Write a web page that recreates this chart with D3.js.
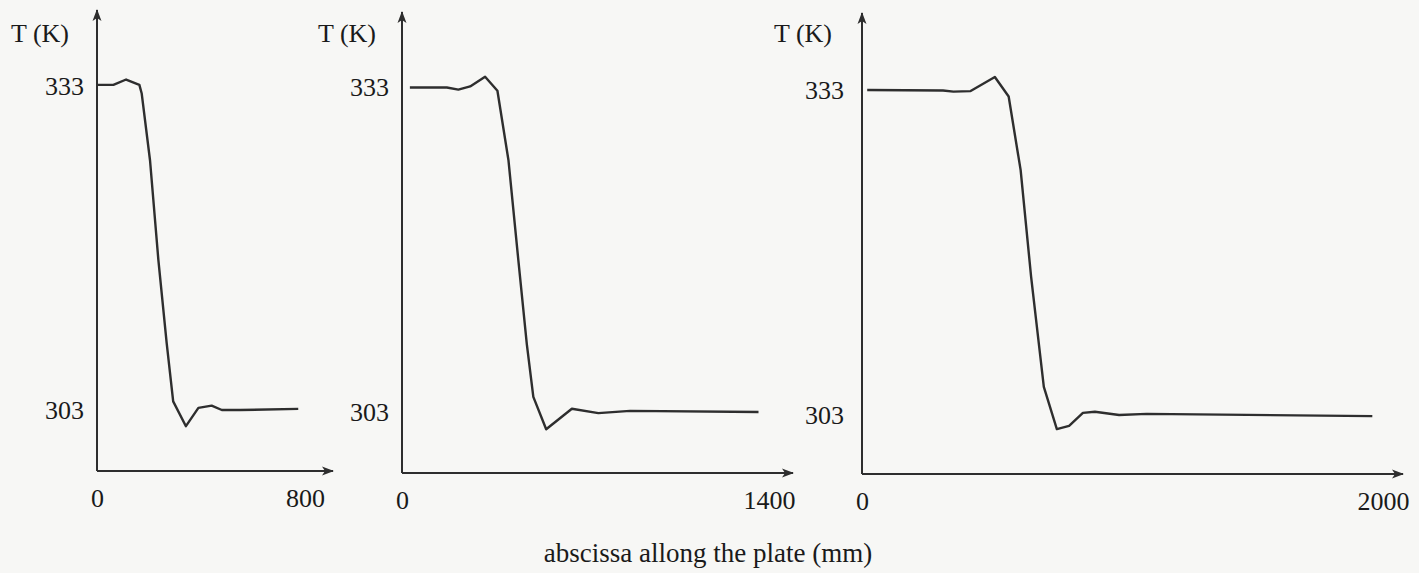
<!DOCTYPE html>
<html>
<head>
<meta charset="utf-8">
<script src="https://cdn.jsdelivr.net/npm/d3@7"></script>
<style>
  html, body { margin: 0; padding: 0; background: #f7f7f5; }
  svg { display: block; }
  text { font-family: "Liberation Serif", "DejaVu Serif", serif; fill: #1a1a1a; }
</style>
</head>
<body>
<svg id="chart" width="1419" height="573"></svg>
<script>
// ---- data ----
const yTicks = [303, 333];
const yLabel = "T (K)";
const xTitle = "abscissa allong the plate (mm)";

// Panel 1: plate length 800 mm
const x1 = [0, 63, 112, 163, 172, 204, 236, 268, 293, 342, 390, 441, 480, 550, 774];
const t1 = [333.1, 333.1, 333.6, 333.1, 332.3, 326.1, 316.9, 309.2, 303.8, 301.5, 303.2, 303.4, 303.0, 303.0, 303.1];
const xTicks1 = [0, 800];

// Panel 2: plate length 1400 mm
const x2 = [30, 171, 215, 260, 317, 364, 406, 444, 476, 501, 550, 648, 749, 870, 1360];
const t2 = [333.0, 333.0, 332.8, 333.1, 334.0, 332.7, 326.3, 317.0, 309.3, 304.4, 301.4, 303.3, 302.9, 303.1, 303.0];
const xTicks2 = [0, 1400];

// Panel 3: plate length 2000 mm
const x3 = [20, 311, 351, 417, 510, 563, 609, 649, 698, 748, 795, 848, 894, 987, 1093, 1959];
const t3 = [333.0, 332.95, 332.85, 332.9, 334.2, 332.4, 325.6, 315.8, 305.6, 301.7, 302.0, 303.2, 303.3, 303.0, 303.1, 302.9];
const xTicks3 = [0, 2000];

// ---- layout ----
const panels = [
  { xs: x1, ts: t1, xTicks: xTicks1, x0: 97,  x1: 305,  xTip: 333,  yAxis: 471, yTop: 10, y333: 86, y303: 410, yPad: 13, labX: 40 },
  { xs: x2, ts: t2, xTicks: xTicks2, x0: 402, x1: 769,  xTip: 793,  yAxis: 473, yTop: 12, y333: 87.5, y303: 412, yPad: 13, labX: 347 },
  { xs: x3, ts: t3, xTicks: xTicks3, x0: 862, x1: 1383, xTip: 1403, yAxis: 474, yTop: 13, y333: 90, y303: 415, yPad: 18, labX: 803 }
];

const svg = d3.select("#chart");
const ink = "#2e2e2e";
const fs = "26px";

const defs = svg.append("defs");
defs.append("marker")
  .attr("id", "arrow")
  .attr("viewBox", "0 0 12 10")
  .attr("refX", 11).attr("refY", 5)
  .attr("markerWidth", 12).attr("markerHeight", 10)
  .attr("markerUnits", "userSpaceOnUse")
  .attr("orient", "auto")
  .append("path")
  .attr("d", "M0,0.5 L12,5 L0,9.5 L3,5 Z")
  .attr("fill", ink);

panels.forEach(p => {
  const xMax = p.xTicks[1];
  const x = d3.scaleLinear().domain([0, xMax]).range([p.x0, p.x1]);
  const y = d3.scaleLinear().domain([303, 333]).range([p.y303, p.y333]);
  const g = svg.append("g");

  // axis lines with arrows
  g.append("line")
    .attr("x1", p.x0).attr("y1", p.yAxis)
    .attr("x2", p.x0).attr("y2", p.yTop)
    .attr("stroke", ink).attr("stroke-width", 2)
    .attr("marker-end", "url(#arrow)");
  g.append("line")
    .attr("x1", p.x0).attr("y1", p.yAxis)
    .attr("x2", p.xTip).attr("y2", p.yAxis)
    .attr("stroke", ink).attr("stroke-width", 2)
    .attr("marker-end", "url(#arrow)");

  // y tick labels
  const yAx = d3.axisLeft(y).tickValues(yTicks).tickSize(0).tickPadding(p.yPad).tickFormat(d3.format("d"));
  const gy = g.append("g").attr("transform", `translate(${p.x0},0)`).call(yAx);
  gy.select(".domain").remove();
  gy.selectAll("text").style("font-family", "'Liberation Serif', serif").style("font-size", fs).attr("fill", "#1a1a1a");

  // x tick labels
  const xAx = d3.axisBottom(x).tickValues(p.xTicks).tickSize(0).tickPadding(18).tickFormat(d3.format("d"));
  const gx = g.append("g").attr("transform", `translate(0,${p.yAxis})`).call(xAx);
  gx.select(".domain").remove();
  gx.selectAll("text").style("font-family", "'Liberation Serif', serif").style("font-size", fs).attr("fill", "#1a1a1a");

  // y label
  g.append("text")
    .attr("x", p.labX).attr("y", 42)
    .attr("text-anchor", "middle")
    .style("font-size", fs)
    .text(yLabel);

  // curve
  const pts = p.xs.map((v, i) => [v, p.ts[i]]);
  g.append("path")
    .datum(pts)
    .attr("d", d3.line().x(d => x(d[0])).y(d => y(d[1])))
    .attr("fill", "none")
    .attr("stroke", ink)
    .attr("stroke-width", 2.4)
    .attr("stroke-linejoin", "round");
});

svg.append("text")
  .attr("x", 708).attr("y", 562)
  .attr("text-anchor", "middle")
  .style("font-size", "27px")
  .text(xTitle);
</script>
</body>
</html>
